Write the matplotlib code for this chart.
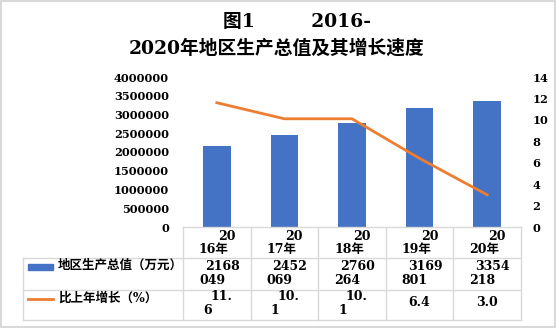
import matplotlib
matplotlib.use("Agg")
import matplotlib.pyplot as plt
from matplotlib.lines import Line2D
from matplotlib.patches import Rectangle
import numpy as np

FONT = ['DejaVu Serif', 'Noto Sans CJK SC']
plt.rcParams['font.family'] = FONT
plt.rcParams['font.weight'] = 'bold'

W, H = 556, 328

years = ['2016', '2017', '2018', '2019', '2020']
gdp = [2168049, 2452069, 2760264, 3169801, 3354218]
growth = ['11.6', '10.1', '10.1', '6.4', '3.0']
series_names = ['地区生产总值（万元）', '比上年增长（%）']
title_line1 = '图1　　　2016-'
title_line2 = '2020年地区生产总值及其增长速度'

BLUE = '#4472C4'
ORANGE = '#ED7D31'
GRID = '#D9D9D9'


def fx(x):
    return x / W


def fy(y):
    return 1 - y / H


fig = plt.figure(figsize=(W / 100, H / 100), dpi=100)
ax = fig.add_axes([fx(183), fy(227), fx(521) - fx(183), fy(77) - fy(227)])
ax2 = ax.twinx()

x = np.arange(len(years))
ax.bar(x, gdp, width=0.41, color=BLUE, zorder=2)
ax2.plot(x, [float(g) for g in growth], color=ORANGE, lw=2.0, zorder=3)

ax.set_xlim(-0.5, len(years) - 0.5)
ax.set_ylim(0, 4000000)
ax.set_yticks(np.arange(0, 4000001, 500000))
ax.set_yticklabels([str(v) for v in range(0, 4000001, 500000)])
ax2.set_ylim(0, 14)
ax2.set_yticks(range(0, 15, 2))
ax.set_xticks([])

for a in (ax, ax2):
    for s in a.spines.values():
        s.set_visible(False)
    a.tick_params(length=0, labelsize=8.2)
ax.tick_params(axis='y', pad=10)
ax2.tick_params(axis='y', pad=8)
for lab in ax.get_yticklabels() + ax2.get_yticklabels():
    lab.set_fontweight('bold')
ax2.set_zorder(ax.get_zorder() + 1)
ax2.patch.set_visible(False)

# table grid
def hline(y, x0, x1):
    fig.add_artist(Line2D([fx(x0), fx(x1)], [fy(y), fy(y)], color=GRID, lw=1))


def vline(xp, y0, y1):
    fig.add_artist(Line2D([fx(xp), fx(xp)], [fy(y0), fy(y1)], color=GRID, lw=1))


edges = [183 + i * (521 - 183) / len(years) for i in range(len(years) + 1)]
hline(227, 183, 521)
hline(258, 23, 521)
hline(290, 23, 521)
hline(320, 23, 521)
for e in edges:
    vline(e, 227, 320)
vline(23, 258, 320)

cw = edges[1] - edges[0]
fs = 9
for i, yr in enumerate(years):
    left = edges[i]
    fig.text(fx(left + 35), fy(236), yr[:2], fontsize=fs, va='center', ha='left')
    fig.text(fx(left + 16), fy(250), yr[2:] + '年', fontsize=fs, va='center', ha='left')
    s = str(gdp[i])
    fig.text(fx(left + 22), fy(266), s[:4], fontsize=fs, va='center', ha='left')
    fig.text(fx(left + 16), fy(280), s[4:], fontsize=fs, va='center', ha='left')
    g = growth[i]
    if len(g) > 3:
        fig.text(fx(left + 27), fy(297), g[:3], fontsize=fs, va='center', ha='left')
        fig.text(fx(left + 20), fy(311), g[3:], fontsize=fs, va='center', ha='left')
    else:
        fig.text(fx(left + cw / 2), fy(303), g, fontsize=fs, va='center', ha='center')

# legend keys inside table
fig.add_artist(Rectangle((fx(28), fy(270)), fx(53) - fx(28), fy(264) - fy(270),
                         color=BLUE, transform=fig.transFigure))
fig.add_artist(Line2D([fx(28), fx(53)], [fy(299), fy(299)], color=ORANGE, lw=2))
fig.text(fx(58), fy(265), series_names[0], fontsize=fs, va='center', ha='left')
fig.text(fx(58), fy(298), series_names[1], fontsize=fs, va='center', ha='left')

# titles
fig.text(fx(297), fy(22), title_line1, fontsize=13.5, va='center', ha='center')
fig.text(fx(277), fy(48), title_line2, fontsize=13.5, va='center', ha='center')

# outer border
fig.add_artist(Rectangle((0.001, 0.002), 0.997, 0.995, fill=False, edgecolor=GRID,
                         lw=1.5, transform=fig.transFigure))

fig.savefig('out.png', dpi=100)
